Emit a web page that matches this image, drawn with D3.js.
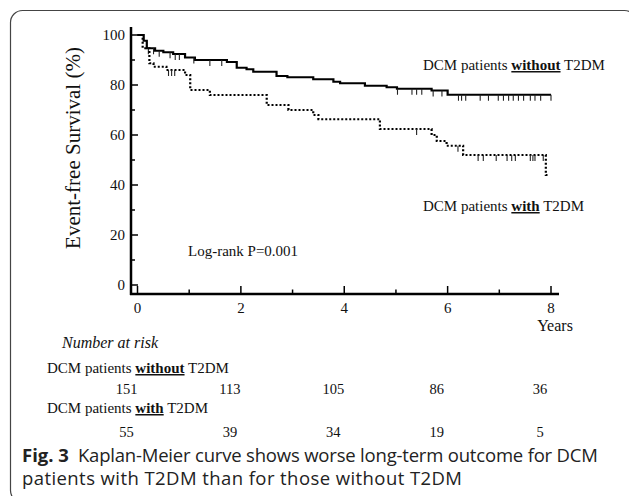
<!DOCTYPE html>
<html>
<head>
<meta charset="utf-8">
<script src="https://cdn.jsdelivr.net/npm/d3@7"></script>
<style>
  body { margin: 0; background: #fff; }
  svg { display: block; }
  .serif { font-family: "Liberation Serif", "Times New Roman", serif; fill: #111; }
  .cap { font-family: "Open Sans", sans-serif; fill: #222; }
</style>
</head>
<body>
<svg id="chart" width="629" height="496"></svg>
<script>
// survival steps (years, % event-free)
let without_times = [0, 0.12, 0.18, 0.34, 0.5, 0.69, 0.92, 1.11, 1.73, 1.92, 2.11, 2.24, 2.69, 2.9, 3.4, 3.79, 3.92, 4.4, 4.82, 5.02, 5.69, 6.0, 8.0];
let without_surv  = [100, 97.7, 94.7, 93.7, 93.1, 92.4, 91, 90, 89.2, 86.9, 86.3, 85.3, 83.6, 83.1, 82.3, 81.3, 80.7, 79.7, 79.1, 78.5, 77.8, 76.1, 76.1];
let without_censor = [0.21, 0.31, 0.42, 0.63, 0.73, 0.81, 1.09, 1.4, 1.63, 5.03, 5.31, 5.4, 5.5, 5.72, 5.89, 6.21, 6.27, 6.35, 6.63, 6.79, 6.98, 7.08, 7.18, 7.27, 7.37, 7.47, 7.6, 7.69, 7.8, 8.0];

let with_times = [0, 0.1, 0.23, 0.31, 0.56, 0.92, 1.02, 1.4, 2.5, 2.92, 3.4, 3.5, 4.69, 5.69, 5.79, 5.98, 6.3, 7.9, 7.97];
let with_surv  = [100, 94.7, 88.7, 87.3, 86, 84, 78, 76, 72, 70, 68, 66.3, 62.4, 60, 57.6, 55.7, 52, 44, 44];
let with_censor = [0.6, 0.66, 0.72, 5.4, 6.2, 6.59, 6.69, 6.94, 7.15, 7.24, 7.31, 7.6, 7.65, 7.69, 7.85];

let x_ticks = [0, 2, 4, 6, 8];
let y_ticks = [0, 20, 40, 60, 80, 100];
let risk_without = [151, 113, 105, 86, 36];
let risk_with = [55, 39, 34, 19, 5];

var svg = d3.select("#chart");

// frame round the figure
svg.append("rect")
  .attr("x", 10.5).attr("y", 10.5)
  .attr("width", 626).attr("height", 492)
  .attr("rx", 12)
  .attr("fill", "none")
  .attr("stroke", "#444")
  .attr("stroke-width", 1.2);

var x = d3.scaleLinear().domain([0, 8]).range([137.5, 551]);
var y = d3.scaleLinear().domain([0, 100]).range([285, 35]);
var axis_x = 131, axis_y = 294;

var g = svg.append("g");

// axes
g.append("line")
  .attr("x1", axis_x).attr("x2", axis_x)
  .attr("y1", 27).attr("y2", axis_y + 1)
  .attr("stroke", "#000").attr("stroke-width", 2.5);
g.append("line")
  .attr("x1", axis_x - 1).attr("x2", 559)
  .attr("y1", axis_y).attr("y2", axis_y)
  .attr("stroke", "#000").attr("stroke-width", 2.5);

// y ticks (inward)
g.selectAll(".ytick")
  .data(d3.range(0, 101, 10))
  .enter().append("line")
    .attr("x1", axis_x)
    .attr("x2", d => axis_x + (d % 20 == 0 ? 7 : 4))
    .attr("y1", d => y(d)).attr("y2", d => y(d))
    .attr("stroke", "#000").attr("stroke-width", 1.5);
g.selectAll(".ylab")
  .data(y_ticks)
  .enter().append("text")
    .attr("class", "serif")
    .attr("x", 125).attr("y", d => y(d) + 5)
    .attr("text-anchor", "end")
    .attr("font-size", 15)
    .text(d => d);

// x ticks (inward)
g.selectAll(".xtick")
  .data(d3.range(0, 9, 1))
  .enter().append("line")
    .attr("x1", d => x(d)).attr("x2", d => x(d))
    .attr("y1", axis_y)
    .attr("y2", d => axis_y - (d % 2 == 0 ? 8 : 4.5))
    .attr("stroke", "#000").attr("stroke-width", 1.5);
g.selectAll(".xlab")
  .data(x_ticks)
  .enter().append("text")
    .attr("class", "serif")
    .attr("x", d => x(d)).attr("y", 313)
    .attr("text-anchor", "middle")
    .attr("font-size", 15)
    .text(d => d);

g.append("text")
  .attr("class", "serif")
  .attr("x", 555).attr("y", 331)
  .attr("text-anchor", "middle")
  .attr("font-size", 16)
  .text("Years");

g.append("text")
  .attr("class", "serif")
  .attr("transform", "translate(80,148) rotate(-90)")
  .attr("text-anchor", "middle")
  .attr("font-size", 21)
  .text("Event-free Survival (%)");

// curves
var step_line = d3.line()
  .x(d => x(d[0]))
  .y(d => y(d[1]))
  .curve(d3.curveStepAfter);

function draw_curve(times, surv, censor, dash) {
  let pts = times.map((t, i) => [t, surv[i]]);
  g.append("path")
    .attr("d", step_line(pts))
    .attr("fill", "none")
    .attr("stroke", "#000")
    .attr("stroke-width", 2.2)
    .attr("stroke-dasharray", dash);
  let bis = d3.bisector(d => d).right;
  g.selectAll(null)
    .data(censor)
    .enter().append("line")
      .attr("x1", d => x(d)).attr("x2", d => x(d))
      .attr("y1", d => y(surv[Math.max(0, bis(times, d) - 1)]))
      .attr("y2", d => y(surv[Math.max(0, bis(times, d) - 1)]) + 6)
      .attr("stroke", "#222")
      .attr("stroke-width", 1.1);
}
draw_curve(without_times, without_surv, without_censor, null);
draw_curve(with_times, with_surv, with_censor, "2,2");

// group labels
function group_label(px, py, word) {
  let t = g.append("text")
    .attr("class", "serif")
    .attr("x", px).attr("y", py)
    .attr("font-size", 15);
  t.append("tspan").text("DCM patients ");
  t.append("tspan").attr("font-weight", "bold")
    .attr("text-decoration", "underline").text(word);
  t.append("tspan").text(" T2DM");
}
group_label(423, 70, "without");
group_label(423, 211, "with");

g.append("text")
  .attr("class", "serif")
  .attr("x", 188).attr("y", 256)
  .attr("font-size", 15)
  .text("Log-rank P=0.001");

// number at risk table
g.append("text")
  .attr("class", "serif")
  .attr("x", 62).attr("y", 348)
  .attr("font-size", 16)
  .attr("font-style", "italic")
  .text("Number at risk");
group_label(47, 373, "without");
group_label(47, 413, "with");

g.selectAll(".rw")
  .data(risk_without)
  .enter().append("text")
    .attr("class", "serif")
    .attr("x", (d, i) => x(x_ticks[i]) - 11).attr("y", 394)
    .attr("text-anchor", "middle")
    .attr("font-size", 14.5)
    .text(d => d);
g.selectAll(".rx")
  .data(risk_with)
  .enter().append("text")
    .attr("class", "serif")
    .attr("x", (d, i) => x(x_ticks[i]) - 11).attr("y", 437)
    .attr("text-anchor", "middle")
    .attr("font-size", 14.5)
    .text(d => d);

// caption
var c1 = svg.append("text").attr("class", "cap")
  .attr("x", 22).attr("y", 462).attr("font-size", 18.5);
c1.append("tspan").attr("font-weight", "bold").text("Fig. 3");
c1.append("tspan").attr("dx", 9).attr("textLength", 520)
  .text("Kaplan-Meier curve shows worse long-term outcome for DCM");
svg.append("text").attr("class", "cap")
  .attr("x", 22).attr("y", 485).attr("font-size", 18.5)
  .attr("textLength", 440)
  .text("patients with T2DM than for those without T2DM");
</script>
</body>
</html>
